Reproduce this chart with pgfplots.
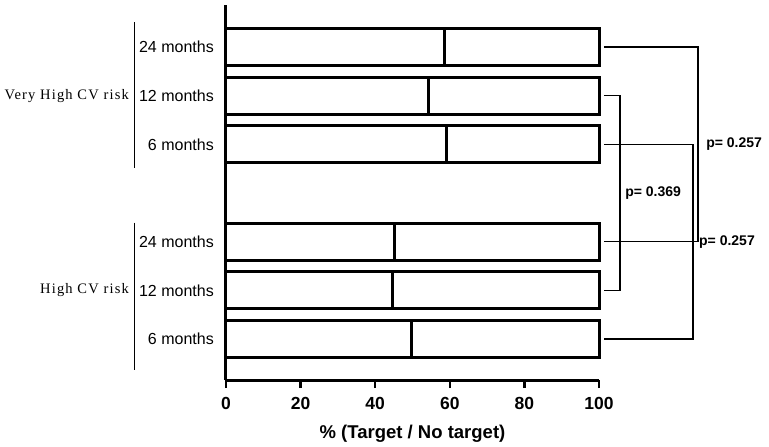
\documentclass[border=0pt]{standalone}
\usepackage{pgfplots}
\pgfplotsset{compat=1.18}
\usepackage{fontspec}
\setmainfont{Liberation Sans}
\newfontfamily\grpfont[LetterSpace=8]{Liberation Serif}
\begin{document}
\begin{tikzpicture}
\path[use as bounding box] (0,0) rectangle (769pt,-447pt);
\begin{axis}[
  at={(226pt,-380pt)}, anchor=south west,
  scale only axis, width=373pt, height=375pt,
  xbar stacked, bar width=37pt,
  xmin=0, xmax=100, ymin=0.16, ymax=7.86,
  axis lines*=left,
  axis line style={line width=3pt, black},
  tick align=outside,
  xtick={0,20,40,60,80,100},
  major tick length=8pt,
  xtick style={line width=2.5pt, black},
  ytick={1,2,3,5,6,7},
  yticklabels={6 months,12 months,24 months,6 months,12 months,24 months},
  ytick style={draw=none},
  yticklabel style={font=\fontsize{16}{18}\selectfont, inner sep=0pt, xshift=-4pt},
  xticklabel style={font=\fontsize{17.5}{20}\selectfont\bfseries, inner sep=0pt, yshift=-9pt},
  /pgf/number format/assume math mode=true,
  xlabel={\% (Target / No target)},
  xlabel style={font=\fontsize{18.5}{21}\selectfont\bfseries, inner sep=0pt, yshift=-15pt},
  clip=false,
  cycle list={{draw=black, fill=white}},
  every axis plot/.append style={line width=3pt},
]
% first segment: Target %
\addplot coordinates {(49.6,1) (44.7,2) (45.3,3) (59.0,5) (54.2,6) (58.7,7)};
% second segment: No target %
\addplot coordinates {(50.4,1) (55.3,2) (54.7,3) (41.0,5) (45.8,6) (41.3,7)};

% comparison brackets
\draw[line width=1.5pt] (axis cs:101.3,7) -| (axis cs:126.5,3) -- (axis cs:101.3,3);
\draw[line width=1.5pt] (axis cs:101.3,5) -| (axis cs:125.2,1) -- (axis cs:101.3,1);
\draw[line width=1.5pt] (axis cs:101.3,6) -| (axis cs:105.6,2) -- (axis cs:101.3,2);
\node[anchor=west, inner sep=0pt, font=\fontsize{14}{16}\selectfont\bfseries] at (axis cs:107.0,4) {p= 0.369};
\node[anchor=west, inner sep=0pt, font=\fontsize{14}{16}\selectfont\bfseries] at (axis cs:128.7,5) {p= 0.257};
\node[anchor=west, inner sep=0pt, font=\fontsize{14}{16}\selectfont\bfseries] at (axis cs:126.8,3) {p= 0.257};

% group labels
\draw[line width=1pt] (axis cs:-24.4,7.51) -- (axis cs:-24.4,4.51);
\draw[line width=1pt] (axis cs:-24.4,3.39) -- (axis cs:-24.4,0.36);
\node[anchor=east, inner sep=0pt, font=\grpfont\fontsize{14.5}{16}\selectfont] at (axis cs:-26.0,6) {Very High CV risk};
\node[anchor=east, inner sep=0pt, font=\grpfont\fontsize{14.5}{16}\selectfont] at (axis cs:-26.0,2) {High CV risk};
\end{axis}
\end{tikzpicture}
\end{document}
